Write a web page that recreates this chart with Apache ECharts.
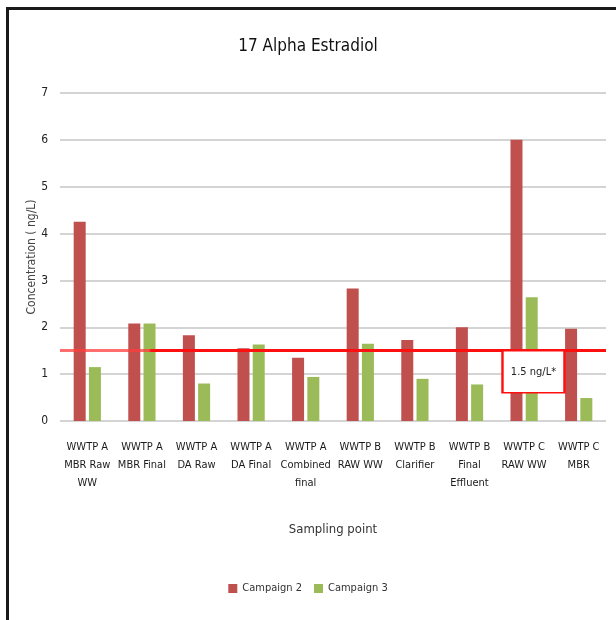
<!DOCTYPE html>
<html>
<head>
<meta charset="utf-8">
<script src="https://cdn.jsdelivr.net/npm/echarts@6/dist/echarts.min.js"></script>
<style>
  html, body { margin: 0; padding: 0; background: #fff; }
  #frame { position: absolute; left: 0; top: 0; width: 616px; height: 620px; }
  #edge { position: absolute; left: 6px; top: 7px; width: 610px; height: 613px;
          border-top: 3px solid #1a1a1a; border-left: 3px solid #1a1a1a; box-sizing: border-box; }
  #chart { position: absolute; left: 0; top: 0; width: 616px; height: 620px; }
</style>
</head>
<body>
<div id="frame">
  <div id="edge"></div>
  <div id="chart"></div>
</div>
<script>
// Sampling points along the three treatment works
const categories = [
  'WWTP A\nMBR Raw\nWW', 'WWTP A\nMBR Final', 'WWTP A\nDA Raw', 'WWTP A\nDA Final',
  'WWTP A\nCombined\nfinal', 'WWTP B\nRAW WW', 'WWTP B\nClarifier', 'WWTP B\nFinal\nEffluent',
  'WWTP C\nRAW WW', 'WWTP C\nMBR'
];
// 17 alpha estradiol concentrations, ng/L
const campaign2 = [4.25, 2.08, 1.83, 1.55, 1.35, 2.83, 1.73, 2.0, 6.0, 1.97];
const campaign3 = [1.15, 2.08, 0.8, 1.63, 0.94, 1.65, 0.9, 0.78, 2.64, 0.49];
// Guideline threshold
const threshold = 1.5;
const thresholdLabel = '1.5 ng/L*';
const yTicks = [0, 1, 2, 3, 4, 5, 6, 7];

const font = "'Liberation Sans Narrow', 'DejaVu Sans Condensed', 'Liberation Sans', sans-serif";
const chart = echarts.init(document.getElementById('chart'), null, { renderer: 'canvas' });

chart.setOption({
  animation: false,
  textStyle: { fontFamily: font },
  title: {
    text: '17 Alpha Estradiol',
    left: 'center', top: 33,
    textStyle: { fontFamily: font, fontSize: 17, fontWeight: 'normal', color: '#111' }
  },
  legend: {
    bottom: 21, left: 'center',
    itemWidth: 9, itemHeight: 9, itemGap: 12,
    icon: 'rect',
    textStyle: { fontFamily: font, fontSize: 11, color: '#333' },
    data: ['Campaign 2', 'Campaign 3']
  },
  grid: { left: 60, right: 10, top: 93, bottom: 199 },
  xAxis: {
    type: 'category',
    data: categories,
    name: 'Sampling point',
    nameLocation: 'middle',
    nameGap: 102,
    nameTextStyle: { fontFamily: font, fontSize: 13, color: '#333' },
    axisLine: { show: false },
    axisTick: { show: false },
    axisLabel: {
      interval: 0, margin: 17, lineHeight: 18,
      fontFamily: font, fontSize: 11, color: '#1a1a1a'
    }
  },
  yAxis: {
    type: 'value',
    min: yTicks[0], max: yTicks[yTicks.length - 1], interval: 1,
    name: 'Concentration ( ng/L)',
    nameLocation: 'middle',
    nameGap: 22,
    nameMoveOverlap: false,
    nameTextStyle: { fontFamily: font, fontSize: 12, color: '#444' },
    axisLine: { show: false },
    axisTick: { show: false },
    axisLabel: { margin: 12, fontFamily: font, fontSize: 12, color: '#222' },
    splitLine: { lineStyle: { color: '#d4d4d4', width: 2 } }
  },
  series: [
    {
      name: 'Campaign 2',
      type: 'bar',
      data: campaign2,
      barWidth: 12,
      barGap: '27%',
      itemStyle: { color: '#C0504D' },
      markLine: {
        silent: true,
        symbol: 'none',
        z: 10,
        label: { show: false },
        lineStyle: {
          width: 3,
          type: 'solid',
          color: new echarts.graphic.LinearGradient(0, 0, 1, 0, [
            { offset: 0, color: 'rgba(255,60,60,0.75)' },
            { offset: 0.165, color: 'rgba(255,60,60,0.75)' },
            { offset: 0.17, color: '#ff1010' },
            { offset: 1, color: '#ff1010' }
          ])
        },
        data: [{ yAxis: threshold }]
      },
      markPoint: {
        silent: true,
        z: 11,
        symbol: 'rect',
        symbolSize: [62, 42],
        symbolOffset: [17, 21],
        itemStyle: { color: '#fff', borderColor: '#ff1010', borderWidth: 2 },
        label: {
          show: true,
          formatter: thresholdLabel,
          fontFamily: font, fontSize: 11, color: '#222'
        },
        data: [{ coord: [8, threshold], value: threshold }]
      }
    },
    {
      name: 'Campaign 3',
      type: 'bar',
      data: campaign3,
      barWidth: 12,
      itemStyle: { color: '#9BBB59' }
    }
  ]
});
</script>
</body>
</html>
